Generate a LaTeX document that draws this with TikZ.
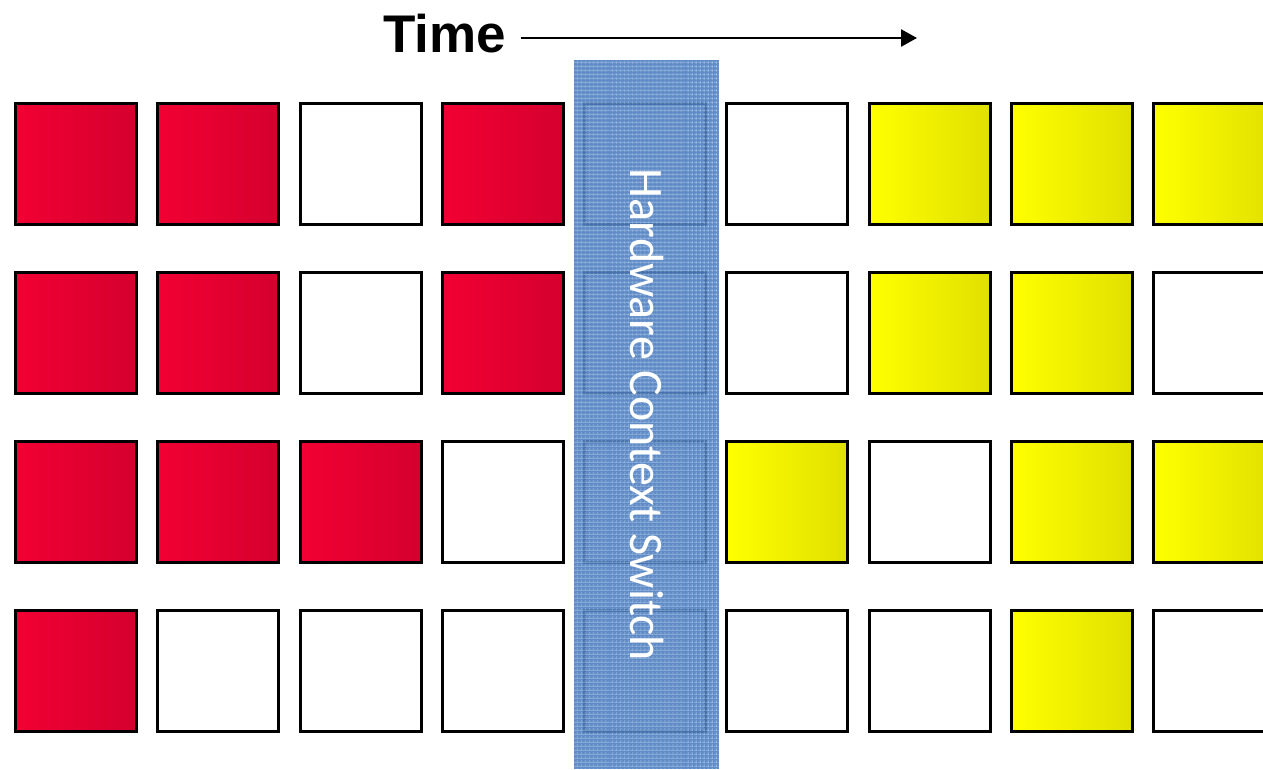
\documentclass[tikz,border=0pt]{standalone}
\usepackage{fontspec}
\setmainfont{Liberation Sans}
\newfontfamily\bandfont{Carlito}
\usetikzlibrary{positioning,arrows.meta,patterns.meta}

\definecolor{taskAleft}{HTML}{F20033}
\definecolor{taskAright}{HTML}{D4002E}
\definecolor{taskBleft}{HTML}{FFFF00}
\definecolor{taskBright}{HTML}{E0E000}
\definecolor{switchblue}{HTML}{4D7FC2}

\tikzset{
  slot/.style={draw=black, line width=3pt, minimum size=121pt, inner sep=0pt},
  idle/.style={slot, fill=white},
  taskA/.style={slot, left color=taskAleft, right color=taskAright},
  taskB/.style={slot, left color=taskBleft, right color=taskBright},
}

\begin{document}
\begin{tikzpicture}[x=1pt, y=-1pt]
  \useasboundingbox (0,0) rectangle (1263,769);
  \clip (0,0) rectangle (1263,769);

  % time axis
  \node[font=\bfseries\fontsize{53}{53}\selectfont, inner sep=0pt, anchor=base west]
    (time) at (383,52) {Time};
  \coordinate (tend) at (917,38);
  \draw[line width=2.6pt, -{Triangle[length=16pt,width=17pt]}]
    ([xshift=15pt,yshift=14pt]time.base east) -- (tend);

  % four rows of slots, one per thread
  \foreach \row/\cells in {
      1/{taskA,taskA,idle,taskA,idle,idle,taskB,taskB,taskB},
      2/{taskA,taskA,idle,taskA,idle,idle,taskB,taskB,idle},
      3/{taskA,taskA,taskA,idle,idle,taskB,idle,taskB,taskB},
      4/{taskA,idle,idle,idle,idle,idle,idle,taskB,idle}}
    \foreach \k [count=\col] in \cells
      \node[\k] (s-\row-\col) at ({76+142.25*(\col-1)},{163.5+169.3*(\row-1)}) {};

  % switch band over column 5
  \fill[switchblue, fill opacity=0.9] (574,60) rectangle (719,769);
  \fill[pattern={Lines[angle=0,distance=4pt,line width=1pt]}, pattern color=white, fill opacity=0.25]
    (574,60) rectangle (719,769);
  \fill[pattern={Lines[angle=90,distance=4pt,line width=1pt]}, pattern color=white, fill opacity=0.25]
    (574,60) rectangle (719,769);
  \node[rotate=-90, anchor=base, text=white, inner sep=0pt,
        font=\bandfont\fontsize{48}{48}\selectfont] (hcs) at (630,415)
    {Hardware Context Switch};
\end{tikzpicture}
\end{document}
